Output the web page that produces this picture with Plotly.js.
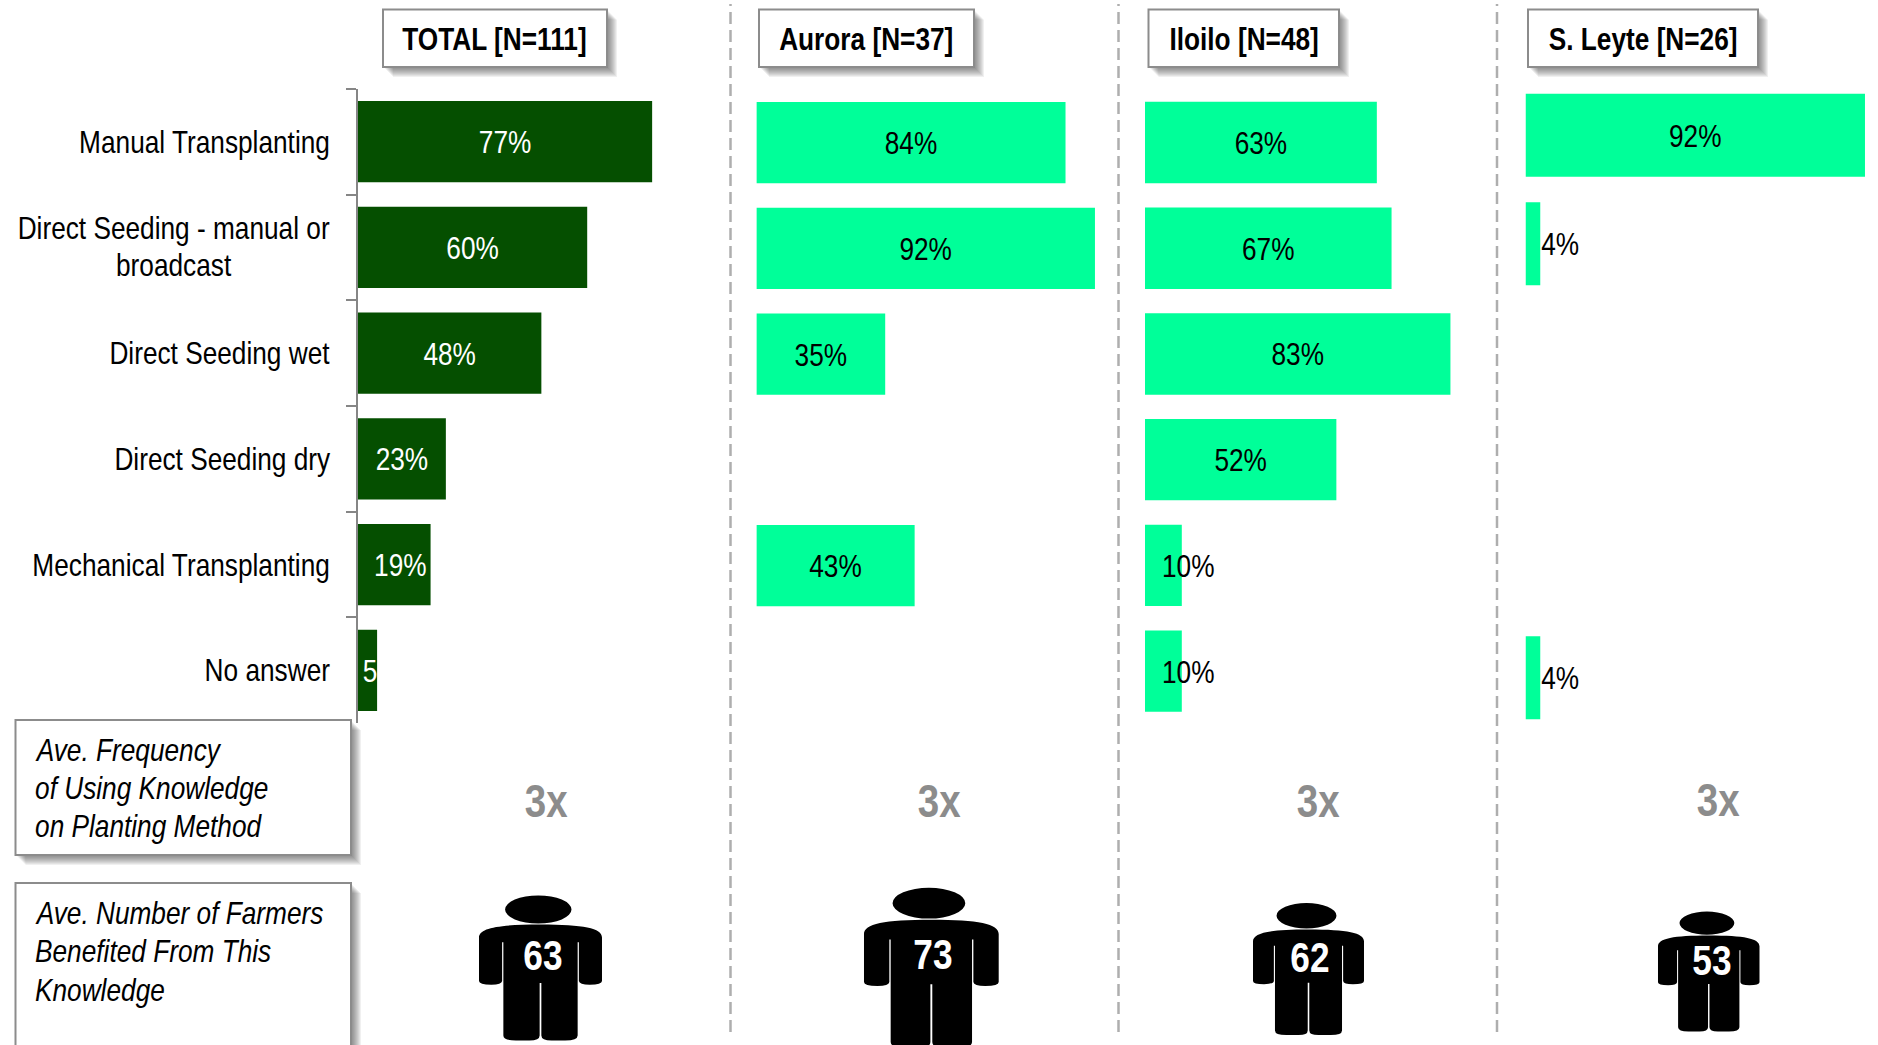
<!DOCTYPE html>
<html>
<head>
<meta charset="utf-8">
<script src="https://cdn.plot.ly/plotly-3.0.1.min.js"></script>
<style>html,body{margin:0;padding:0;background:#fff;overflow:hidden}#chart{width:1878px;height:1045px}</style>
</head>
<body>
<div id="chart"></div>
<script>
const categories = ["Manual Transplanting", "Direct Seeding - manual or<br>broadcast", "Direct Seeding wet", "Direct Seeding dry", "Mechanical Transplanting", "No answer"];
const totalValues = [77, 60, 48, 23, 19, 5];
const auroraValues = [84, 92, 35, null, 43, null];
const iloiloValues = [63, 67, 83, 52, 10, 10];
const leyteValues = [92, 4, null, null, null, 4];
const panelHeaders = ["TOTAL [N=111]", "Aurora [N=37]", "Iloilo [N=48]", "S. Leyte [N=26]"];
const frequencyLabels = ["3x", "3x", "3x", "3x"];
const farmerCounts = ["63", "73", "62", "53"];
const frequencyBoxLines = ["Ave. Frequency", "of Using Knowledge", "on Planting Method"];
const farmersBoxLines = ["Ave. Number of Farmers", "Benefited From This", "Knowledge"];

const W = 1878, H = 1045;
const FONT = '"Liberation Sans",Arial,sans-serif';
const NARROWING = 0.82;   // horizontal squeeze that gives the condensed letterforms
const px = x => x / W, py = y => 1 - y / H;
const DARK = '#054f00', BRIGHT = '#00ff99';

// x0: left px, scale: px per %, max: axis max, top/bottom: px of the category band
const panels = [
  {values: totalValues,  x0: 358,  scale: 3.82, max: 90, top: 88.8, bottom: 723.2, color: DARK,   text: '#ffffff', gap: 0.23},
  {values: auroraValues, x0: 756.4, scale: 3.68, max: 95, top: 89.8, bottom: 724.2, color: BRIGHT, text: '#000000', gap: 0.23},
  {values: iloiloValues, x0: 1145, scale: 3.68, max: 90, top: 89.6, bottom: 724, color: BRIGHT, text: '#000000', gap: 0.23},
  {values: leyteValues,  x0: 1525.5, scale: 3.69, max: 95, top: 81,   bottom: 732, color: BRIGHT, text: '#000000', gap: 0.235}
];

const traces = [], layout = {
  width: W, height: H, margin: {l: 0, r: 0, t: 0, b: 0},
  paper_bgcolor: '#fff', plot_bgcolor: 'rgba(0,0,0,0)', showlegend: false,
  font: {family: FONT, size: 32, color: '#000'}, shapes: [], annotations: []
};

panels.forEach((p, i) => {
  const n = i === 0 ? '' : String(i + 1);
  const iloilo = i === 2, leyte = i === 3;
  traces.push({
    type: 'bar', orientation: 'h', y: categories, x: p.values,
    xaxis: 'x' + n, yaxis: 'y' + n,
    width: 1 - p.gap,
    marker: {color: p.color},
    text: p.values.map(v => {
      if (v === null) return '';
      if (iloilo && v === 10) return '';
      if (i === 0 && v === 5) return '5';
      return v + '%';
    }),
    textposition: p.values.map(v => (leyte && v === 4) ? 'outside' : 'inside'),
    insidetextanchor: 'middle', constraintext: 'none', textangle: 0, cliponaxis: false,
    textfont: {family: FONT, size: 32, color: p.text},
    hoverinfo: 'skip'
  });
  layout['xaxis' + n] = {
    domain: [px(p.x0), px(p.x0 + p.scale * p.max)], range: [0, p.max],
    anchor: 'y' + n, visible: false, fixedrange: true
  };
  layout['yaxis' + n] = {
    domain: [py(p.bottom), py(p.top)], type: 'category', categoryorder: 'array',
    categoryarray: categories, autorange: 'reversed',
    anchor: 'x' + n, showgrid: false, zeroline: false, showticklabels: false, fixedrange: true,
    showline: i === 0, linecolor: '#868686', linewidth: 2,
    ticks: i === 0 ? 'outside' : '', ticklen: 10, tickwidth: 2, tickcolor: '#868686',
    tickson: 'boundaries'
  };
});

// Category labels, through the first panel's category scale
categories.forEach(c => layout.annotations.push({
  xref: 'paper', yref: 'y', x: px(331.5), y: c, xanchor: 'right', yanchor: 'middle',
  align: 'center', text: c, showarrow: false, font: {family: FONT, size: 32, color: '#000'}
}));

// Overflowing Iloilo labels
iloiloValues.forEach((v, k) => {
  if (v === 10) layout.annotations.push({
    xref: 'x3', yref: 'y3', x: 0, y: categories[k], xanchor: 'left', yanchor: 'middle',
    xshift: 15, yshift: -1, text: v + '%', showarrow: false, font: {family: FONT, size: 32, color: '#000'}
  });
});

function paperRect(x0, y0, x1, y1, extra) {
  return Object.assign({type: 'rect', xref: 'paper', yref: 'paper',
    x0: px(x0), x1: px(x1), y0: py(y1), y1: py(y0), line: {width: 0}}, extra);
}
function box(x0, y0, x1, y1) {
  for (let s = 10; s >= 2; s -= 1) {
    layout.shapes.push(paperRect(x0 + s, y0 + s, x1 + s, y1 + s, {fillcolor: 'rgba(70,70,70,0.08)'}));
  }
  layout.shapes.push(paperRect(x0, y0, x1, y1, {fillcolor: '#fff', line: {color: '#8c8c8c', width: 2}}));
}

// Dashed separators
[730.5, 1118.5, 1497].forEach(x => layout.shapes.push({
  type: 'line', xref: 'paper', yref: 'paper', x0: px(x), x1: px(x), y0: py(1032), y1: py(4),
  line: {color: '#aeaeae', width: 2.5, dash: '12px,6px'}
}));

// Panel headers
const headerBoxes = [[383, 607], [759, 974], [1148.5, 1339], [1528, 1758]];
panelHeaders.forEach((t, i) => {
  const [a, b] = headerBoxes[i];
  box(a, 9.5, b, 67);
  layout.annotations.push({
    xref: 'paper', yref: 'paper', x: px((a + b) / 2), y: py(39), xanchor: 'center', yanchor: 'middle',
    text: '<b>' + t + '</b>', showarrow: false, font: {family: FONT, size: 32, color: '#000'}
  });
});

// Side boxes
box(15.5, 720, 351, 855);
box(15.5, 883, 351, 1075);
[[frequencyBoxLines, [750, 788, 826]], [farmersBoxLines, [913, 951, 990]]].forEach(([lines, ys]) => {
  lines.forEach((t, k) => layout.annotations.push({
    xref: 'paper', yref: 'paper', x: px(33), y: py(ys[k]), xanchor: 'left', yanchor: 'middle',
    text: '<i>' + t + '</i>', showarrow: false, font: {family: FONT, size: 32, color: '#000'}
  }));
});

// Frequency labels
[[546, 800], [939, 800], [1317.5, 800], [1717.5, 799]].forEach(([x, y], i) => layout.annotations.push({
  xref: 'paper', yref: 'paper', x: px(x), y: py(y), xanchor: 'center', yanchor: 'middle',
  text: '<b>' + frequencyLabels[i] + '</b>', showarrow: false,
  font: {family: FONT, size: 47, color: '#8c8c8c'}
}));

// Farmer pictograms
function person(x, y, w, h) {
  const P = (u, v) => (px(x + u * w)).toFixed(5) + ',' + (py(y + v * h)).toFixed(5);
  const body = [
    'M', P(0, .29), 'C', P(0, .225), P(.15, .2), P(.5, .2), 'C', P(.85, .2), P(1, .225), P(1, .29),
    'L', P(1, .59), 'Q', P(1, .615), P(.9, .615), 'Q', P(.815, .615), P(.812, .59),
    'L', P(.812, .323), 'L', P(.802, .323), 'L', P(.802, .965),
    'Q', P(.802, 1), P(.7, 1), 'L', P(.59, 1), 'Q', P(.507, 1), P(.507, .965),
    'L', P(.507, .604), 'L', P(.493, .604), 'L', P(.493, .965),
    'Q', P(.493, 1), P(.41, 1), 'L', P(.3, 1), 'Q', P(.198, 1), P(.198, .965),
    'L', P(.198, .323), 'L', P(.188, .323), 'L', P(.188, .59),
    'Q', P(.185, .615), P(.1, .615), 'Q', P(0, .615), P(0, .59), 'Z'
  ].join(' ');
  layout.shapes.push({type: 'path', xref: 'paper', yref: 'paper', path: body, fillcolor: '#000', line: {width: 0}});
  layout.shapes.push({type: 'circle', xref: 'paper', yref: 'paper',
    x0: px(x + .212 * w), x1: px(x + .752 * w), y0: py(y + .193 * h), y1: py(y), fillcolor: '#000', line: {width: 0}});
}
[[479, 895.5, 123, 145, 542.5, 955], [864, 887.7, 134.7, 160, 933, 954],
 [1253, 903, 111, 132, 1310, 957], [1658, 911.5, 101.5, 120, 1711.5, 959.5]].forEach(([x, y, w, h, tx, ty], i) => {
  person(x, y, w, h);
  layout.annotations.push({
    xref: 'paper', yref: 'paper', x: px(tx), y: py(ty), xanchor: 'center', yanchor: 'middle',
    text: '<b>' + farmerCounts[i] + '</b>', showarrow: false, font: {family: FONT, size: 43, color: '#fff'}
  });
});

// Squeeze each text horizontally about its anchor edge; it stays real text.
function squeeze(el, origin, dx, dy) {
  const b = el.getBBox();
  const ax = origin === 'left' ? b.x : origin === 'right' ? b.x + b.width : b.x + b.width / 2;
  const old = el.getAttribute('transform') || '';
  el.setAttribute('transform', old + ' translate(' + (ax + dx) + ',' + dy + ') scale(' + NARROWING + ',1) translate(' + (-ax) + ',0)');
}
const labelNudge = {'19%': 6, '5': 2.5, '4%': -2};
Plotly.newPlot('chart', traces, layout, {displayModeBar: false, staticPlot: true}).then(gd => {
  gd.querySelectorAll('.annotation').forEach(a => {
    const idx = +a.getAttribute('data-index');
    const t = a.querySelector('text');
    if (!t) return;
    // tighten the two-line category label to the reference's leading
    const lines = t.querySelectorAll('tspan.line');
    if (lines.length === 2) {
      lines.forEach((l, k) => {
        const y = parseFloat(l.getAttribute('y'));
        l.setAttribute('y', y + (k === 0 ? 2.2 : -2.6));
      });
    }
    squeeze(t, layout.annotations[idx].xanchor, 0, 0);
  });
  gd.querySelectorAll('.bartext').forEach(t => {
    const s = t.textContent;
    squeeze(t, s === '4%' ? 'left' : 'center', labelNudge[s] || 0, 0.5);
  });
});
</script>
</body>
</html>
